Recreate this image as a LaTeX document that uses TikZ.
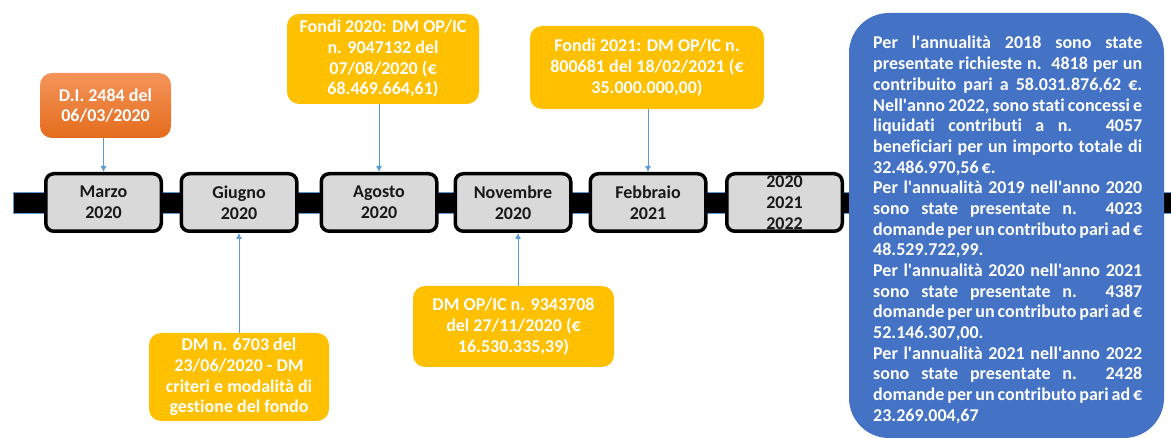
\documentclass[tikz,border=0pt]{standalone}
\usepackage{fontspec}
\newfontfamily\calib{Carlito}[Ligatures=NoCommon]
\usetikzlibrary{arrows.meta}
\definecolor{datefill}{HTML}{D9D9D9}
\definecolor{yel}{HTML}{FFC000}
\definecolor{bluebox}{HTML}{4472C4}
\definecolor{arrblue}{HTML}{5B9BD5}
\definecolor{orTop}{HTML}{F4945A}
\definecolor{orBot}{HTML}{E46C1C}
\newcommand{\q}{\textquotesingle}
\newcommand{\jl}[1]{\makebox[269pt][s]{#1}}
\begin{document}
\begin{tikzpicture}[x=1pt,y=-1pt,
  every node/.style={font=\calib\bfseries\fontsize{18}{20.7}\selectfont},
  datebox/.style={draw=black,line width=3.5pt,fill=datefill,rounded corners=8pt,
    minimum width=115.5pt,minimum height=57.5pt,inner sep=0pt,align=center,text=black!90},
  yelbox/.style={fill=yel,rounded corners=12pt,inner sep=0pt,align=center,text=white},
  arr/.style={draw=arrblue,line width=0.8pt,-{Latex[length=6pt,width=6pt]}},
  bline/.style={anchor=base west,inner sep=0pt,text=white}
]
\useasboundingbox (0,0) rectangle (1171,438);
% timeline bar
\draw[fill=black,draw=arrblue,line width=0.8pt] (13,192) rectangle (1185,213);
% date boxes
\node[datebox] (m1) at (103.5,202.5) {Marzo\\2020};
\node[datebox] (m2) at (239,202.5) {Giugno\\2020};
\node[datebox] (m3) at (379,202.5) {Agosto\\2020};
\node[datebox] (m4) at (513,202.5) {Novembre\\2020};
\node[datebox] (m5) at (648,202.5) {Febbraio\\2021};
\node[datebox] (m6) at (784.5,202.5) {2020\\2021\\2022};
% event boxes
\node[rounded corners=12pt,top color=orTop,bottom color=orBot,minimum width=131pt,minimum height=65pt,
  inner sep=0pt,align=center,text=white] (di) at (105.5,105.5) {D.I. 2484 del\\06/03/2020};
\node[yelbox,minimum width=192pt,minimum height=90pt] (f20) at (383,59)
  {Fondi 2020: DM OP/IC\\n. 9047132 del\\07/08/2020 (€\\68.469.664,61)};
\node[yelbox,minimum width=234pt,minimum height=83pt] (f21) at (647,67.5)
  {Fondi 2021: DM OP/IC n.\\800681 del 18/02/2021 (€\\35.000.000,00)};
\node[yelbox,minimum width=201pt,minimum height=81pt] (dmop) at (513.5,326.5)
  {DM OP/IC n. 9343708\\del 27/11/2020 (€\\16.530.335,39)};
\node[yelbox,minimum width=180pt,minimum height=88pt] (dm67) at (239,377)
  {DM n. 6703 del\\23/06/2020 - DM\\criteri e modalità di\\gestione del fondo};
% connectors
\draw[arr] (di.south -| m1.north) -- (m1.north);
\draw[arr] (f20.south -| m3.north) -- (m3.north);
\draw[arr] (f21.south -| m5.north) -- (m5.north);
\coordinate (nv) at ([xshift=5pt]m4.south);
\draw[arr] (dmop.north -| nv) -- (nv);
\draw[arr] (dm67.north -| m2.south) -- (m2.south);
% blue box
\node[fill=bluebox,rounded corners=40pt,minimum width=315pt,minimum height=425pt,inner sep=0pt] (bb) at (1006.5,225.5) {};
\foreach \i/\t in {
 0/{\jl{Per l\q annualità 2018 sono state}},
 1/{\jl{presentate richieste n.\ \ 4818 per un}},
 2/{\jl{contribuito pari a 58.031.876,62 €.}},
 3/{\jl{Nell\q anno 2022, sono stati concessi e}},
 4/{\jl{liquidati contributi a n. 4057}},
 5/{\jl{beneficiari per un importo totale di}},
 6/{32.486.970,56\,€.},
 7/{\jl{Per l\q annualità 2019 nell\q anno 2020}},
 8/{\jl{sono state presentate n. 4023}},
 9/{\jl{domande per un contributo pari ad €}},
 10/{48.529.722,99.},
 11/{\jl{Per l\q annualità 2020 nell\q anno 2021}},
 12/{\jl{sono state presentate n. 4387}},
 13/{\jl{domande per un contributo pari ad €}},
 14/{52.146.307,00.},
 15/{\jl{Per l\q annualità 2021 nell\q anno 2022}},
 16/{\jl{sono state presentate n. 2428}},
 17/{\jl{domande per un contributo pari ad €}},
 18/{23.269.004,67}}
 \node[bline] (bt\i) at (873,49+20.67*\i) {\t};
\end{tikzpicture}
\end{document}
